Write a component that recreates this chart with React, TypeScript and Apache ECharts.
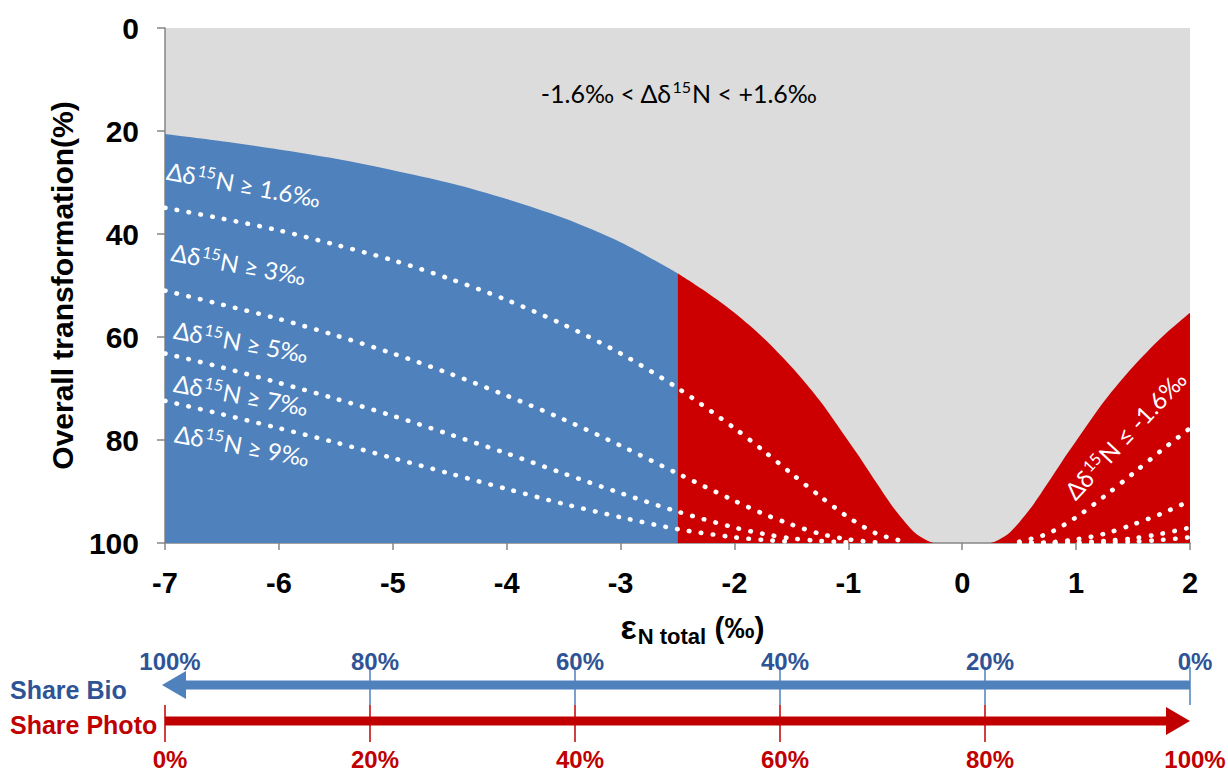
import React, { useEffect, useRef } from 'react';
import * as echarts from 'echarts';

// ---------- axes ----------
const xMin = -7;
const xMax = 2;
const yMin = 0;
const yMax = 100;

// ---------- Δδ15N = ±1.6‰ boundary (overall transformation %) ----------
const bioEps = [-7, -6.5, -6, -5.5, -5, -4.5, -4, -3.5, -3, -2.5];
const bioEdge = [20.6, 22.0, 23.6, 25.4, 27.6, 30.1, 33.2, 36.9, 41.6, 47.6];
const redLeftEps = [-2.5, -2.25, -2, -1.75, -1.5, -1.25, -1, -0.875, -0.75, -0.625, -0.5, -0.4, -0.3, -0.25];
const redLeftEdge = [47.6, 51.2, 55.3, 60.1, 65.8, 72.4, 80.2, 84.2, 88.4, 92.5, 96.0, 98.3, 99.6, 100];
const redRightEps = [0.25, 0.3, 0.4, 0.5, 0.625, 0.75, 0.875, 1, 1.25, 1.5, 1.75, 2];
const redRightEdge = [100, 99.6, 98.3, 96.0, 92.5, 88.4, 84.2, 80.2, 72.4, 65.8, 60.1, 55.3];

// ---------- dotted iso-lines ----------
const dotLeftEps = [-7, -6.5, -6, -5.5, -5, -4.5, -4, -3.5, -3, -2.5, -2, -1.75, -1.5, -1.25, -1, -0.75, -0.5];
const dot3Left = [34.9, 37.0, 39.3, 42.1, 45.1, 48.7, 52.8, 57.6, 63.2, 69.9, 77.7, 82.0, 86.5, 90.9, 95.0, 98.2, 99.75];
const dot5Left = [51.0, 53.7, 56.5, 59.7, 63.2, 67.1, 71.4, 76.0, 81.1, 86.5, 91.8, 94.3, 96.4, 98.2, 99.3, 99.9];
const dot7Left = [63.2, 65.9, 68.9, 72.0, 75.3, 78.9, 82.6, 86.5, 90.3, 93.9, 97.0, 98.2, 99.1, 99.6, 99.9];
const dot9Left = [72.4, 75.0, 77.7, 80.5, 83.5, 86.5, 89.5, 92.4, 95.0, 97.3, 98.9, 99.4, 99.75];

const dotRightEps = [0.5, 0.75, 1, 1.25, 1.5, 1.75, 2];
const dot3Right = [99.75, 98.2, 95.0, 90.9, 86.5, 82.0, 77.7];
const dot5Right = [100, 99.9, 99.3, 98.2, 96.4, 94.3, 91.8];
const dot7Right = [100, 100, 99.9, 99.6, 99.1, 98.2, 97.0];
const dot9Right = [100, 100, 100, 99.9, 99.75, 99.4, 98.9];

// ---------- share scale ----------
const sharePhoto = [0, 20, 40, 60, 80, 100];
const bioLabels = ['100%', '80%', '60%', '40%', '20%', '0%'];
const photoLabels = ['0%', '20%', '40%', '60%', '80%', '100%'];

// ---------- texts ----------
const isoLabels = [
  { text: '{a|Δδ}{s|15}{a|N ≥ 1.6‰}', x: -6.98, y: 27.6 },
  { text: '{a|Δδ}{s|15}{a|N ≥ 3‰}', x: -6.94, y: 43.4 },
  { text: '{a|Δδ}{s|15}{a|N ≥ 5‰}', x: -6.92, y: 58.5 },
  { text: '{a|Δδ}{s|15}{a|N ≥ 7‰}', x: -6.92, y: 68.8 },
  { text: '{a|Δδ}{s|15}{a|N ≥ 9‰}', x: -6.91, y: 78.6 },
];
const rightLabel = { text: '{a|Δδ}{s|15}{a|N ≤ -1.6‰}', x: 1.43, y: 79.0 };
const topLabel = { text: '{a|-1.6‰ < Δδ}{s|15}{a|N < +1.6‰}', x: -2.49, y: 12.6 };

const BLUE = '#4F81BD';
const RED = '#CC0000';
const DARK_RED = '#C00000';
const DARK_BLUE = '#2F5496';
const GRAY = '#DCDCDC';
const LABEL_FONT = 'Lato, "Open Sans", sans-serif';
const AXIS_FONT = 'Arial, "Liberation Sans", sans-serif';

const zip = (xs: number[], ys: number[]) => ys.map((y, i) => [xs[i], y]);

const areaSeries = (xs: number[], ys: number[], color: string) => ({
  type: 'line',
  data: zip(xs, ys),
  showSymbol: false,
  smooth: 0.3,
  lineStyle: { width: 0, opacity: 0 },
  areaStyle: { color, opacity: 1, origin: 'end' },
  z: 2,
  silent: true,
});

const dotSeries = (xs: number[], ys: number[]) => ({
  type: 'line',
  data: zip(xs, ys),
  showSymbol: false,
  smooth: 0.3,
  lineStyle: { color: '#FFFFFF', width: 4.6, type: [0.5, 11.5], cap: 'round' },
  z: 5,
  silent: true,
});

const makeRich = (fill: string, size: number) => ({
  a: { fontFamily: LABEL_FONT, fontSize: size, fill },
  s: { fontFamily: LABEL_FONT, fontSize: Math.round(size * 0.65), fill, padding: [0, 1, 12, 1] },
});

export default function App() {
  const ref = useRef<HTMLDivElement>(null);

  useEffect(() => {
    const el = ref.current!;
    const chart = echarts.init(el, undefined, { renderer: 'svg' });

    const option: any = {
      animation: false,
      backgroundColor: '#FFFFFF',
      grid: {
        left: 165,
        top: 28,
        width: 1025,
        height: 515,
        show: true,
        backgroundColor: GRAY,
        borderWidth: 0,
      },
      xAxis: {
        type: 'value',
        min: xMin,
        max: xMax,
        interval: 1,
        axisLine: { show: true, onZero: false, lineStyle: { color: '#868686', width: 1.5 } },
        axisTick: { show: true, length: 7, lineStyle: { color: '#868686', width: 1.5 } },
        splitLine: { show: false },
        axisLabel: {
          fontFamily: AXIS_FONT,
          fontWeight: 'bold',
          fontSize: 29,
          color: '#000',
          margin: 25,
        },
        name: '{e|ε}{s|N total}{p| (‰)}',
        nameLocation: 'middle',
        nameGap: 64,
        nameTextStyle: {
          padding: [0, 0, 0, 30],
          rich: {
            e: { fontFamily: AXIS_FONT, fontWeight: 'bold', fontSize: 34, color: '#000' },
            s: { fontFamily: AXIS_FONT, fontWeight: 'bold', fontSize: 22, color: '#000', padding: [18, 0, 0, 1] },
            p: { fontFamily: AXIS_FONT, fontWeight: 'bold', fontSize: 30, color: '#000' },
          },
        },
      },
      yAxis: {
        type: 'value',
        min: yMin,
        max: yMax,
        interval: 20,
        inverse: true,
        axisLine: { show: true, onZero: false, lineStyle: { color: '#868686', width: 1.5 } },
        axisTick: { show: true, length: 8, lineStyle: { color: '#868686', width: 1.5 } },
        splitLine: { show: false },
        axisLabel: {
          fontFamily: AXIS_FONT,
          fontWeight: 'bold',
          fontSize: 30,
          color: '#000',
          margin: 26,
        },
        name: 'Overall transformation(%)',
        nameLocation: 'middle',
        nameRotate: 90,
        nameGap: 88,
        nameTextStyle: { fontFamily: AXIS_FONT, fontWeight: 'bold', fontSize: 30, color: '#000' },
      },
      series: [
        areaSeries(bioEps, bioEdge, BLUE),
        areaSeries(redLeftEps, redLeftEdge, RED),
        areaSeries(redRightEps, redRightEdge, RED),
        dotSeries(dotLeftEps, dot3Left),
        dotSeries(dotLeftEps, dot5Left),
        dotSeries(dotLeftEps, dot7Left),
        dotSeries(dotLeftEps, dot9Left),
        dotSeries(dotRightEps, dot3Right),
        dotSeries(dotRightEps, dot5Right),
        dotSeries(dotRightEps, dot7Right),
        dotSeries(dotRightEps, dot9Right),
      ],
    };
    chart.setOption(option);

    const px = (x: number, y: number) => chart.convertToPixel({ gridIndex: 0 }, [x, y]) as number[];
    const gx = (x: number) => px(x, 0)[0];
    const deg = Math.PI / 180;
    const g: any[] = [];

    // top label
    const tp = px(topLabel.x, topLabel.y);
    g.push({
      type: 'text', x: tp[0], y: tp[1], z: 100,
      style: { text: topLabel.text, align: 'center', verticalAlign: 'middle', rich: makeRich('#000000', 25) },
    });
    isoLabels.forEach((l) => {
      const p = px(l.x, l.y);
      g.push({
        type: 'text', x: p[0], y: p[1], rotation: -10.5 * deg, z: 100,
        style: { text: l.text, align: 'left', verticalAlign: 'middle', rich: makeRich('#FFFFFF', 24) },
      });
    });
    const rp = px(rightLabel.x, rightLabel.y);
    g.push({
      type: 'text', x: rp[0], y: rp[1], rotation: 47 * deg, z: 100,
      style: { text: rightLabel.text, align: 'center', verticalAlign: 'middle', rich: makeRich('#FFFFFF', 24) },
    });

    // share scale below
    const shareX = sharePhoto.map((s) => gx(xMin + ((xMax - xMin) * s) / 100));
    const yBio = 685;
    const yPhoto = 721;
    const left = shareX[0];
    const right = shareX[shareX.length - 1];

    shareX.forEach((x, i) => {
      if (i > 0) {
        g.push({ type: 'line', z: 90, shape: { x1: x, y1: 667, x2: x, y2: 705 }, style: { stroke: BLUE, lineWidth: 1.5 } });
      }
      if (i < shareX.length - 1) {
        g.push({ type: 'line', z: 90, shape: { x1: x, y1: 705, x2: x, y2: 742 }, style: { stroke: DARK_RED, lineWidth: 1.5 } });
      }
      g.push({
        type: 'text', x: x + 5, y: 661, z: 100,
        style: { text: bioLabels[i], align: 'center', verticalAlign: 'middle', fontFamily: AXIS_FONT, fontWeight: 'bold', fontSize: 24, fill: DARK_BLUE },
      });
      g.push({
        type: 'text', x: x + 5, y: 759, z: 100,
        style: { text: photoLabels[i], align: 'center', verticalAlign: 'middle', fontFamily: AXIS_FONT, fontWeight: 'bold', fontSize: 24, fill: DARK_RED },
      });
    });

    // blue arrow (pointing left)
    const tipL = left - 3;
    g.push({ type: 'line', z: 95, shape: { x1: right, y1: yBio, x2: tipL + 20, y2: yBio }, style: { stroke: BLUE, lineWidth: 9 } });
    g.push({ type: 'polygon', z: 95, shape: { points: [[tipL, yBio], [tipL + 24, yBio - 14], [tipL + 24, yBio + 14]] }, style: { fill: BLUE } });
    // red arrow (pointing right)
    g.push({ type: 'line', z: 95, shape: { x1: left, y1: yPhoto, x2: right - 20, y2: yPhoto }, style: { stroke: DARK_RED, lineWidth: 9 } });
    g.push({ type: 'polygon', z: 95, shape: { points: [[right, yPhoto], [right - 24, yPhoto - 14], [right - 24, yPhoto + 14]] }, style: { fill: DARK_RED } });

    g.push({
      type: 'text', x: 10, y: 690, z: 100,
      style: { text: 'Share Bio', align: 'left', verticalAlign: 'middle', fontFamily: AXIS_FONT, fontWeight: 'bold', fontSize: 25, fill: DARK_BLUE },
    });
    g.push({
      type: 'text', x: 10, y: 725, z: 100,
      style: { text: 'Share Photo', align: 'left', verticalAlign: 'middle', fontFamily: AXIS_FONT, fontWeight: 'bold', fontSize: 25, fill: DARK_RED },
    });

    chart.setOption({ graphic: g });

    return () => chart.dispose();
  }, []);

  return (
    <div
      ref={ref}
      style={{ position: 'fixed', left: 0, top: 0, width: 1228, height: 774, background: '#fff' }}
    />
  );
}
